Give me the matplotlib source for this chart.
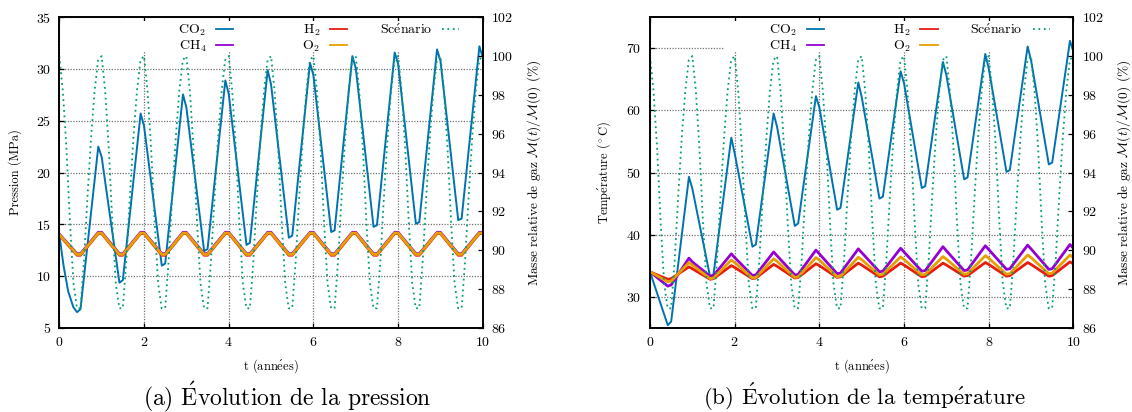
import numpy as np
import matplotlib
matplotlib.use("Agg")
import matplotlib.pyplot as plt
from matplotlib.patches import Rectangle
from matplotlib.legend import Legend

plt.rcParams["font.family"] = ["cmr10", "DejaVu Serif"]
plt.rcParams["mathtext.fontset"] = "cm"
plt.rcParams["axes.formatter.use_mathtext"] = True

# accents en mode math (cmr10 n'a pas de lettres accentuees)
e_acute = r"$\mathrm{\acute{e}}$"
E_acute = r"$\mathrm{\acute{E}}$"

# 1. DONNEES
# sommets par annee k : creux (k+0.42, k+0.5) puis pic (k+0.92, k+1.0)
t_cycle = [k + d for k in range(10) for d in (0.42, 0.5, 0.92, 1.0)]
t_gas = [0.0] + t_cycle
t_months = np.arange(121) / 12  # scenario : pas mensuel

# scenario d'injection / soutirage (%), identique chaque annee
scenario_year = [100, 98.2, 95.3, 91.5, 88.3, 87.0, 87.0, 89.5, 92.8, 95.8, 98.2, 99.8]
scenario = scenario_year * 10 + [100]

# (a) pression (MPa)
t_co2_p = [0.0, 0.1, 0.21, 0.33] + t_cycle
co2_p = [14.0, 11.0, 8.5, 7.0,
         6.5, 6.8, 22.5, 21.5,
         9.35, 9.6, 25.7, 24.5,
         11.0, 11.2, 27.55, 26.3,
         12.4, 12.6, 28.9, 27.6,
         13.0, 13.2, 29.9, 28.5,
         13.7, 13.9, 30.6, 29.4,
         14.25, 14.4, 31.25, 30.1,
         14.75, 14.9, 31.6, 30.5,
         15.05, 15.2, 31.9, 30.8,
         15.4, 15.55, 32.2, 31.1]
ch4_p = [14.05] + [12.15, 12.15, 14.22, 14.22] * 10
h2_p = [13.95] + [12.0, 12.0, 14.1, 14.1] * 10
o2_p = [14.0] + [12.08, 12.08, 14.15, 14.15] * 10

# (b) temperature (degC)
t_co2_T = [0.0] + t_cycle
co2_T = [34.0,
         25.4, 26.0, 49.3, 47.4,
         33.2, 33.6, 55.6, 53.1,
         38.05, 38.4, 59.5, 57.4,
         41.4, 41.8, 62.3, 60.5,
         44.0, 44.3, 64.5, 62.2,
         45.8, 46.1, 66.3, 64.4,
         47.5, 47.8, 67.8, 65.7,
         48.9, 49.2, 69.1, 66.8,
         50.1, 50.4, 70.3, 68.1,
         51.3, 51.6, 71.2, 69.5]
ch4_T = [34.0,
         31.7, 31.9, 36.2, 35.6,
         33.3, 33.4, 36.9, 36.3,
         33.4, 33.5, 37.2, 36.6,
         33.5, 33.6, 37.5, 36.9,
         33.7, 33.8, 37.7, 37.1,
         34.0, 34.1, 37.8, 37.2,
         34.1, 34.2, 38.05, 37.4,
         34.2, 34.3, 38.2, 37.6,
         34.4, 34.5, 38.3, 37.7,
         34.4, 34.5, 38.4, 37.8]
o2_T = [34.0,
        32.4, 32.5, 35.5, 35.1,
        32.9, 33.0, 35.9, 35.5,
        33.0, 33.1, 36.1, 35.7,
        33.1, 33.2, 36.3, 35.9,
        33.2, 33.3, 36.35, 35.95,
        33.5, 33.6, 36.4, 36.0,
        33.5, 33.6, 36.45, 36.05,
        33.6, 33.7, 36.6, 36.2,
        33.6, 33.7, 36.7, 36.3,
        33.7, 33.8, 36.7, 36.3]
h2_T = [34.0,
        32.8, 32.9, 34.8, 34.5,
        32.8, 32.9, 35.0, 34.7,
        32.9, 33.0, 35.2, 34.9,
        33.0, 33.1, 35.3, 35.0,
        33.1, 33.2, 35.4, 35.1,
        33.2, 33.3, 35.4, 35.1,
        33.2, 33.3, 35.4, 35.1,
        33.3, 33.4, 35.5, 35.2,
        33.3, 33.4, 35.5, 35.2,
        33.3, 33.4, 35.6, 35.3]

# couleurs gnuplot
c_co2 = "#0072B2"
c_ch4 = "#9400D3"
c_h2 = "#E51E10"
c_o2 = "#E69F00"
c_scen = "#009E73"


def draw_panel(ax, curves, ylim, yticks, ylabel):
    """Trace un panneau : gaz sur l'axe gauche, scenario sur l'axe droit."""
    lines = {}
    for name, t, y, color, lw in curves:
        lines[name], = ax.plot(t, y, color=color, lw=lw)

    ax2 = ax.twinx()
    lines["scen"], = ax2.plot(t_months, scenario, color=c_scen, lw=1.3,
                              linestyle=(0, (1, 2)))

    ax.set_xlim(0, 10)
    ax.set_ylim(*ylim)
    ax.set_xticks(np.arange(0, 11, 2))
    ax.set_yticks(yticks)
    ax2.set_ylim(86, 102)
    ax2.set_yticks(np.arange(86, 103, 2))

    ax.grid(True, color="0.45", linestyle=(0, (1, 1.2)), lw=0.9)
    ax.tick_params(direction="in", length=3.5, width=0.9, top=True,
                   right=False, labelsize=10, pad=6)
    ax2.tick_params(direction="in", length=3.5, width=0.9, labelsize=10, pad=6)
    for sp in ax2.spines.values():
        sp.set_linewidth(1.2)

    ax.set_xlabel(f"t (ann{e_acute}es)", fontsize=9)
    ax.xaxis.set_label_coords(0.5, -0.095)
    ax.set_ylabel(ylabel, fontsize=9)
    ax.yaxis.set_label_coords(-0.088, 0.5)
    ax2.set_ylabel(r"Masse relative de gaz $\mathcal{M}(t)/\mathcal{M}(0)$ (%)",
                   fontsize=9.6)
    ax2.yaxis.set_label_coords(1.1, 0.5)

    # fond blanc de la cle (cache la grille)
    ax.add_patch(Rectangle((0.174, 0.887), 0.826, 0.1, transform=ax.transAxes,
                           facecolor="white", edgecolor="none", zorder=1.8))

    # cle en 3 colonnes, texte puis echantillon
    columns = [
        (0.424, [lines["co2"], lines["ch4"]], [r"CO$_2$", r"CH$_4$"]),
        (0.693, [lines["h2"], lines["o2"]], [r"H$_2$", r"O$_2$"]),
        (0.958, [lines["scen"]], [f"Sc{e_acute}nario"]),
    ]
    for x_right, handles, labels in columns:
        leg = Legend(ax, handles, labels, loc="upper right",
                     bbox_to_anchor=(x_right, 1.0), frameon=False,
                     markerfirst=False, fontsize=10, borderaxespad=0,
                     borderpad=0.4, handlelength=1.25, handletextpad=0.7,
                     labelspacing=0.05)
        for h in leg.legend_handles:
            h.set_linewidth(1.3)
        ax.add_artist(leg)
    return ax2


fig = plt.figure(figsize=(11.32, 4.12), dpi=100)
ax_a = fig.add_axes([0.0524, 0.2046, 0.3741, 0.7534])
ax_b = fig.add_axes([0.5742, 0.2046, 0.3740, 0.7534])

draw_panel(ax_a,
           [("co2", t_co2_p, co2_p, c_co2, 1.4),
            ("ch4", t_gas, ch4_p, c_ch4, 2.0),
            ("h2", t_gas, h2_p, c_h2, 2.0),
            ("o2", t_gas, o2_p, c_o2, 2.0)],
           (5, 35), np.arange(5, 36, 5), "Pression (MPa)")

draw_panel(ax_b,
           [("co2", t_co2_T, co2_T, c_co2, 1.4),
            ("ch4", t_gas, ch4_T, c_ch4, 2.0),
            ("h2", t_gas, h2_T, c_h2, 2.0),
            ("o2", t_gas, o2_T, c_o2, 2.0)],
           (25, 75), np.arange(30, 71, 10), f"Temp{e_acute}rature ($^\\circ$C)")

for ax in (ax_a, ax_b):
    for sp in ax.spines.values():
        sp.set_linewidth(1.2)

# legendes des sous-figures
fig.text(0.2535, 0.017, f"(a) {E_acute}volution de la pression", fontsize=17,
         ha="center", va="baseline")
fig.text(0.764, 0.017, f"(b) {E_acute}volution de la temp{e_acute}rature",
         fontsize=16.5, ha="center", va="baseline")

fig.savefig("out.png", dpi=100)
